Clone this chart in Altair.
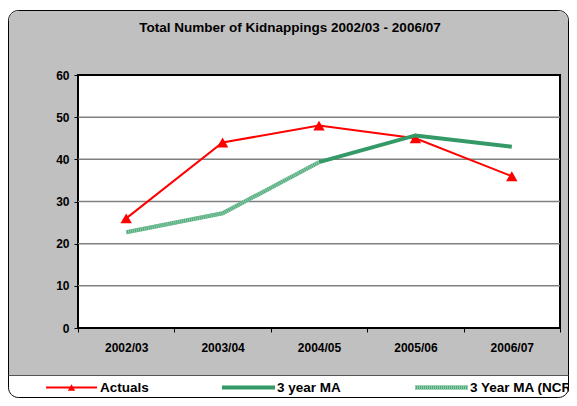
import altair as alt
import pandas as pd

# ---- data ----
periods = ["2002/03", "2003/04", "2004/05", "2005/06", "2006/07"]
actuals = [26, 44, 48, 45, 36]
ma3 = [None, None, 39.33, 45.67, 43.0]
ma3_ncrs = [22.7, 27.2, 39.33, None, None]
y_ticks = [0, 10, 20, 30, 40, 50, 60]
grid_values = [10, 20, 30, 40, 50]
title_text = "Total Number of Kidnappings 2002/03 - 2006/07"
legend_labels = ["Actuals", "3 year MA", "3 Year MA (NCRS)"]

# ---- layout ----
W, H = 482, 253
OX, OY = 78, 75  # page position of plot origin


def px(x):
    return x - OX


def py(y):
    return y - OY


FONT = "Liberation Sans"
RED = "#FF0000"
GREEN = "#339966"
HATCH_BASE = "#4DA97B"
HATCH_LIGHT = "#8FCCA8"
GREY = "#C0C0C0"

df = pd.DataFrame({"period": periods, "Actuals": actuals, "MA": ma3, "NCRS": ma3_ncrs})
grid_df = pd.DataFrame({"v": grid_values})
one = alt.Data(values=[{"a": 1}])

xaxis = alt.Axis(title=None, tickBand="extent", tickSize=4, tickColor="black", tickWidth=1,
                 labelPadding=10, labelFont=FONT, labelFontSize=12, labelFontWeight="bold",
                 labelColor="black", labelAngle=0, domain=False, grid=False, zindex=1)
yaxis = alt.Axis(title=None, values=y_ticks, tickSize=4, tickColor="black", tickWidth=1,
                 labelPadding=5, labelFont=FONT, labelFontSize=12, labelFontWeight="bold",
                 labelColor="black", domain=False, grid=False, zindex=1)
xscale = alt.Scale(type="band", domain=periods, paddingInner=0, paddingOuter=0)
yscale = alt.Scale(domain=[0, 60], nice=False, zero=True)


def X():
    return alt.X("period:N", sort=periods, scale=xscale, axis=xaxis)


def Y(field):
    return alt.Y(f"{field}:Q", scale=yscale, axis=yaxis)


# ---- decoration: chart area ----
outer = alt.Chart(one).mark_rect(fill="white", stroke="black", strokeWidth=1, cornerRadius=10).encode(
    x=alt.value(px(8.5)), x2=alt.value(px(568.5)), y=alt.value(py(10.5)), y2=alt.value(py(397.5)))
grey = alt.Chart(one).mark_rect(fill=GREY, strokeWidth=0, cornerRadiusTopLeft=10,
                                cornerRadiusTopRight=10).encode(
    x=alt.value(px(9)), x2=alt.value(px(568)), y=alt.value(py(11)), y2=alt.value(py(375)))
legend_line = alt.Chart(one).mark_rule(color="#555555", strokeWidth=1).encode(
    x=alt.value(px(8.5)), x2=alt.value(px(568.5)), y=alt.value(py(375.5)))
plot_bg = alt.Chart(one).mark_rect(fill="white", stroke="black", strokeWidth=2).encode(
    x=alt.value(0), x2=alt.value(W), y=alt.value(0), y2=alt.value(H))

title = alt.Chart(one).mark_text(text=title_text, font=FONT, fontSize=13.5, fontWeight="bold",
                                 color="black", align="center", baseline="middle").encode(
    x=alt.value(px(290)), y=alt.value(py(28)))

# ---- grid ----
grid = alt.Chart(grid_df).mark_rule(color="#808080", strokeWidth=1.5).encode(y=Y("v"))

# ---- series ----
base = alt.Chart(df)
act_line = base.mark_line(color=RED, strokeWidth=2).encode(x=X(), y=Y("Actuals"))
act_pts = base.mark_point(shape="triangle-up", filled=True, color=RED, opacity=1, size=130).encode(
    x=X(), y=Y("Actuals"))
ma_line = base.transform_filter("datum.MA != null").mark_line(color=GREEN, strokeWidth=4).encode(
    x=X(), y=Y("MA"))
ncrs_base = base.transform_filter("datum.NCRS != null").mark_line(
    color=HATCH_BASE, strokeWidth=4).encode(x=X(), y=Y("NCRS"))
ncrs_hatch = base.transform_filter("datum.NCRS != null").mark_line(
    color=HATCH_LIGHT, strokeWidth=4, strokeDash=[1, 1]).encode(x=X(), y=Y("NCRS"))

# ---- legend ----
LY = py(387.5)
leg_act = alt.Chart(one).mark_rule(color=RED, strokeWidth=2).encode(
    x=alt.value(px(46)), x2=alt.value(px(97)), y=alt.value(LY))
leg_act_pt = alt.Chart(one).mark_point(shape="triangle-up", filled=True, color=RED, opacity=1,
                                       size=55).encode(x=alt.value(px(71.5)), y=alt.value(LY))
leg_ma = alt.Chart(one).mark_rule(color=GREEN, strokeWidth=4).encode(
    x=alt.value(px(222)), x2=alt.value(px(275)), y=alt.value(LY))
leg_ncrs = alt.Chart(one).mark_rule(color=HATCH_BASE, strokeWidth=4).encode(
    x=alt.value(px(415)), x2=alt.value(px(468)), y=alt.value(LY))
leg_ncrs2 = alt.Chart(one).mark_rule(color=HATCH_LIGHT, strokeWidth=4, strokeDash=[1, 1]).encode(
    x=alt.value(px(415)), x2=alt.value(px(468)), y=alt.value(LY))


def leg_text(label, xpos):
    return alt.Chart(one).mark_text(text=label, font=FONT, fontSize=13.5, fontWeight="bold",
                                    color="black", align="left", baseline="middle").encode(
        x=alt.value(px(xpos)), y=alt.value(LY))


chart = alt.layer(
    outer, grey, legend_line, plot_bg, title, grid,
    act_line, act_pts, ma_line, ncrs_base, ncrs_hatch,
    leg_act, leg_act_pt, leg_ma, leg_ncrs, leg_ncrs2,
    leg_text(legend_labels[0], 100), leg_text(legend_labels[1], 277), leg_text(legend_labels[2], 470),
).properties(
    width=W, height=H,
    autosize=alt.AutoSizeParams(type="none"),
    padding={"left": 70, "top": 67, "right": 9, "bottom": 70},
).configure_view(strokeWidth=0, fill=None).configure(background="white")

chart.save("out.html", embed_options={"renderer": "svg", "actions": False})
